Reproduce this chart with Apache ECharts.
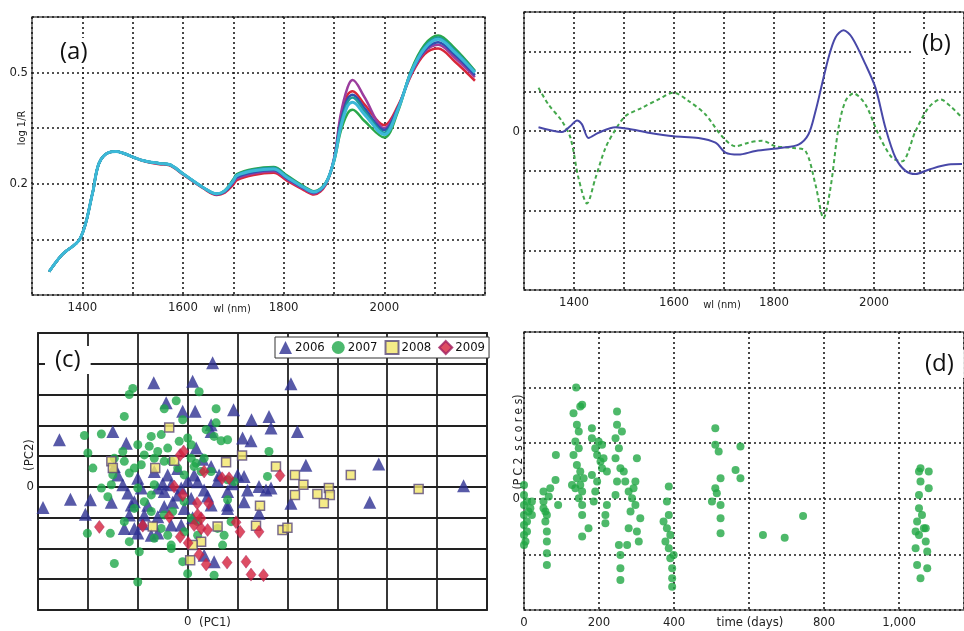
<!DOCTYPE html>
<html>
<head>
<meta charset="utf-8">
<script src="https://cdn.jsdelivr.net/npm/echarts@6/dist/echarts.min.js"></script>
<style>
  html, body { margin: 0; background: #fff; }
  #chart { width: 964px; height: 631px; }
</style>
</head>
<body>
<div id="chart"></div>
<script>
// (a) NIR spectra, log 1/R
const wavelengths = [1334, 1360, 1396, 1420, 1433, 1453, 1467, 1480, 1520, 1553, 1573, 1600, 1640, 1667, 1683, 1700, 1707, 1740, 1780, 1807, 1840, 1860, 1883, 1900, 1913, 1927, 1937, 1960, 2000, 2027, 2053, 2080, 2107, 2140, 2180]
const spectrumRed = [-0.037, 0.009, 0.053, 0.173, 0.255, 0.285, 0.287, 0.283, 0.262, 0.253, 0.250, 0.225, 0.188, 0.170, 0.176, 0.198, 0.210, 0.224, 0.230, 0.208, 0.183, 0.171, 0.196, 0.265, 0.370, 0.440, 0.450, 0.415, 0.358, 0.410, 0.492, 0.550, 0.565, 0.530, 0.478]
const spectrumMagenta = [-0.037, 0.009, 0.053, 0.173, 0.255, 0.285, 0.287, 0.283, 0.263, 0.254, 0.251, 0.226, 0.189, 0.171, 0.178, 0.203, 0.215, 0.228, 0.234, 0.212, 0.186, 0.174, 0.198, 0.268, 0.385, 0.460, 0.480, 0.435, 0.350, 0.405, 0.495, 0.556, 0.575, 0.540, 0.488]
const spectrumBlue = [-0.037, 0.009, 0.053, 0.173, 0.255, 0.285, 0.287, 0.283, 0.263, 0.255, 0.252, 0.227, 0.190, 0.172, 0.179, 0.205, 0.218, 0.231, 0.237, 0.214, 0.188, 0.176, 0.199, 0.266, 0.365, 0.430, 0.440, 0.405, 0.345, 0.405, 0.498, 0.560, 0.582, 0.548, 0.493]
const spectrumGreen = [-0.037, 0.009, 0.053, 0.173, 0.255, 0.285, 0.287, 0.283, 0.263, 0.255, 0.252, 0.227, 0.190, 0.173, 0.182, 0.212, 0.226, 0.240, 0.245, 0.222, 0.193, 0.180, 0.202, 0.260, 0.340, 0.390, 0.400, 0.370, 0.325, 0.395, 0.505, 0.575, 0.600, 0.565, 0.505]
const spectrumTeal = [-0.037, 0.009, 0.053, 0.173, 0.255, 0.285, 0.287, 0.283, 0.263, 0.255, 0.252, 0.227, 0.190, 0.173, 0.181, 0.210, 0.224, 0.238, 0.243, 0.220, 0.191, 0.179, 0.201, 0.262, 0.358, 0.420, 0.433, 0.397, 0.338, 0.402, 0.502, 0.570, 0.595, 0.560, 0.503]
const spectrumCyan = [-0.037, 0.009, 0.053, 0.173, 0.255, 0.285, 0.287, 0.283, 0.263, 0.255, 0.252, 0.227, 0.190, 0.173, 0.181, 0.208, 0.222, 0.235, 0.240, 0.217, 0.190, 0.178, 0.200, 0.263, 0.350, 0.410, 0.420, 0.388, 0.333, 0.400, 0.500, 0.565, 0.590, 0.555, 0.500]

// (b) loadings
const loading1Wl = [1329, 1376, 1393, 1406, 1416, 1429, 1449, 1483, 1516, 1549, 1599, 1649, 1683, 1703, 1729, 1763, 1816, 1849, 1869, 1883, 1896, 1909, 1923, 1939, 1956, 1983, 2003, 2023, 2043, 2063, 2083, 2109, 2149, 2176]
const loading1 = [0.1, -0.02, 0.13, 0.27, 0.17, -0.17, -0.04, 0.1, 0.04, -0.04, -0.13, -0.17, -0.29, -0.54, -0.59, -0.5, -0.42, -0.34, -0.08, 0.5, 1.18, 1.85, 2.36, 2.54, 2.36, 1.68, 1.09, 0.08, -0.67, -1.0, -1.08, -0.97, -0.84, -0.83]
const loading2Wl = [1329, 1349, 1376, 1393, 1409, 1426, 1443, 1463, 1483, 1503, 1536, 1569, 1599, 1629, 1663, 1696, 1723, 1749, 1776, 1803, 1836, 1863, 1883, 1899, 1913, 1929, 1943, 1959, 1983, 2009, 2036, 2056, 2083, 2109, 2133, 2156, 2176]
const loading2 = [1.09, 0.67, 0.25, -0.17, -1.18, -1.82, -1.18, -0.42, 0.04, 0.38, 0.59, 0.8, 0.97, 0.76, 0.42, -0.13, -0.38, -0.29, -0.24, -0.38, -0.42, -0.5, -1.35, -2.19, -1.43, 0.08, 0.76, 0.95, 0.67, -0.08, -0.67, -0.76, 0.0, 0.59, 0.8, 0.59, 0.34]

// (c) PC1 / PC2 scores by year
const years = ['2006', '2007', '2008', '2009']
const scores2006 = [[0.5, 4.03], [-0.68, 3.38], [0.1, 3.43], [2.07, 3.35], [-0.43, 2.73], [-0.1, 2.46], [0.15, 2.46], [0.92, 2.51], [1.28, 2.18], [1.63, 2.29], [1.67, 1.91], [2.2, 1.8], [-2.57, 1.53], [-1.5, 1.8], [-1.23, 1.42], [0.47, 1.8], [1.1, 1.59], [1.27, 1.5], [0.17, 1.26], [0.47, 2.02], [2.37, 0.7], [3.83, 0.74], [5.53, 0.04], [3.65, -0.5], [-2.9, -0.67], [-2.35, -0.4], [-1.95, -0.42], [-2.05, -0.89], [-1.53, -0.5], [-1.4, 0.39], [-1.3, 0.07], [-1.0, 0.28], [-0.93, -0.04], [-0.6, -0.04], [-0.47, -0.15], [-0.33, 0.07], [-0.13, -0.04], [0.2, 0.17], [0.33, -0.1], [0.47, 0.66], [0.63, 0.39], [0.8, -0.15], [1.0, 0.39], [1.13, 0.34], [1.43, 0.01], [1.67, -0.04], [1.57, -0.1], [1.13, -0.48], [0.8, -0.59], [2.07, -0.53], [1.43, -0.86], [-0.2, -0.26], [-1.07, -0.48], [-1.17, -0.91], [-1.27, -1.35], [-1.07, -1.35], [-0.87, -0.91], [-0.73, -1.57], [-0.47, -0.64], [-0.33, -1.24], [-0.13, -1.24], [-0.07, -0.7], [0.53, -2.43], [0.33, -2.22], [0.8, -0.7], [-1.13, -0.59], [-0.6, -0.97], [-1.47, 0.66], [0.13, 0.39], [-0.4, 0.39], [-0.67, 0.5], [0.47, -0.59], [0.07, -0.37], [-0.9, -1.2], [-0.5, 0.1], [0.3, 0.9], [-0.8, -0.6], [0.1, -1.0], [-0.3, -0.5], [0.6, 0.2], [-1.2, -0.2], [0.9, 0.1], [-0.2, 0.6], [0.4, -0.3], [-1.0, -1.5], [-0.6, -1.5], [0.0, 0.2], [1.2, -0.1]]
const scores2007 = [[-1.1, 3.2], [-1.17, 3.0], [-0.47, 2.54], [-0.23, 2.8], [-0.1, 2.18], [0.23, 3.09], [0.57, 2.54], [-1.27, 2.29], [-2.07, 1.67], [-1.73, 1.72], [-2.0, 1.1], [-1.9, 0.61], [-1.53, 0.07], [-1.73, -0.04], [-1.6, -0.32], [-1.3, 1.15], [-1.0, 1.37], [-0.77, 1.32], [-0.73, 1.64], [-0.53, 1.7], [-0.4, 1.26], [-0.33, 0.83], [-0.17, 1.48], [0.0, 1.59], [0.07, 1.37], [0.37, 1.86], [0.53, 1.64], [0.67, 1.5], [0.8, 1.53], [0.57, 2.08], [0.07, 0.93], [0.13, 0.66], [0.27, 0.5], [0.47, 0.5], [-0.2, 0.61], [-0.07, 0.39], [0.17, 0.77], [0.33, 0.93], [0.8, 0.23], [0.93, 0.17], [-0.87, 1.04], [-0.6, 1.15], [-0.47, 0.83], [-1.27, 0.83], [-1.07, 0.61], [-1.17, 0.45], [-1.47, 0.93], [-1.5, 0.39], [-0.93, 0.72], [-0.67, 0.93], [-0.73, -0.26], [-0.87, -0.48], [-1.0, -0.04], [-0.73, -0.8], [-0.53, -1.35], [-0.4, -1.57], [-0.33, -2.0], [-0.1, -2.43], [0.0, -2.82], [0.53, -2.87], [-1.0, -3.09], [-1.47, -2.49], [-2.01, -1.51], [-1.55, -1.51], [-1.17, -1.78], [-0.97, -2.11], [-0.67, -1.67], [-0.33, -1.89], [-0.07, -1.46], [0.2, -1.57], [0.73, -1.57], [0.6, -1.35], [0.7, -1.89], [0.8, -0.42], [0.87, -1.13], [1.63, 1.15], [1.6, 0.34], [-0.3, -0.8], [0.07, -1.02], [-1.07, -0.7], [-0.47, -0.91], [0.2, -1.13], [-0.07, -0.48], [-1.27, -1.13], [-0.67, 0.07]]
const scores2008 = [[-0.37, 1.93], [-1.53, 0.83], [-1.5, 0.61], [-0.65, 0.61], [-0.27, 0.85], [0.77, 0.8], [1.09, 1.02], [1.77, 0.66], [2.15, 0.39], [2.32, 0.07], [3.27, 0.39], [2.83, -0.04], [2.85, -0.26], [2.6, -0.23], [2.73, -0.53], [2.15, -0.26], [4.63, -0.07], [1.45, -0.61], [1.37, -1.26], [0.6, -1.29], [-0.7, -1.29], [0.27, -1.78], [0.1, -1.89], [0.05, -2.38], [1.9, -1.4], [2.0, -1.33]]
const scores2009 = [[-1.77, -1.3], [-0.9, -1.26], [-0.37, -0.97], [-0.15, 1.04], [-0.08, 1.15], [0.33, 0.5], [0.69, 0.28], [0.83, 0.28], [1.85, 0.37], [-0.27, 0.01], [-0.1, -0.26], [0.19, -0.53], [0.42, -0.53], [0.13, -1.24], [0.27, -1.35], [0.4, -1.4], [0.27, -1.02], [0.97, -1.15], [1.05, -1.46], [1.43, -1.46], [-0.15, -1.62], [0.01, -1.82], [0.23, -2.2], [0.37, -2.52], [0.79, -2.46], [1.17, -2.43], [1.27, -2.85], [1.52, -2.87], [0.2, -0.91]]

// (d) PC2 scores over time (days)
const pc2ByTime = [[0, 0.25], [0, 0.07], [0, -0.11], [0, -0.29], [0, -0.47], [0, -0.65], [0, -0.83], [8, -0.05], [8, -0.41], [8, -0.59], [12, -0.23], [17, -0.17], [21, -0.05], [21, -0.29], [4, -0.77],
  [52, 0.13], [52, -0.05], [57, -0.23], [57, -0.41], [61, -0.59], [61, -0.77], [61, -0.98], [61, -1.19], [66, 0.04], [70, 0.19], [61, -0.29], [52, -0.17],
  [85, 0.79], [84, 0.34], [91, -0.11],
  [139, 2.0], [132, 1.54], [155, 1.69], [150, 1.66], [141, 1.33], [146, 1.21], [137, 1.03], [146, 0.91], [132, 0.79], [141, 0.61], [150, 0.49], [141, 0.37], [150, 0.25], [137, 0.19], [155, 0.13], [146, 0.01], [155, -0.11], [155, -0.29], [155, -0.68], [159, 0.37], [128, 0.25],
  [181, 1.27], [181, 1.09], [190, 0.91], [199, 1.03], [195, 0.79], [204, 0.67], [208, 0.55], [181, 0.43], [195, 0.31], [190, 0.13], [221, -0.11], [217, -0.29], [217, -0.44], [212, 0.73], [221, 0.49], [186, -0.05], [172, -0.53], [208, 0.97],
  [248, 1.57], [248, 1.33], [244, 1.09], [253, 0.91], [244, 0.73], [257, 0.55], [248, 0.31], [244, 0.07], [253, -0.83], [257, -1.01], [257, -1.25], [257, -1.46], [261, 1.21], [266, 0.49],
  [270, 0.31], [279, 0.13], [288, 0.01], [297, 0.31], [297, -0.11], [301, 0.73], [279, -0.53], [275, -0.83], [310, -0.35], [306, -0.77], [284, -0.23], [292, 0.19], [301, -0.59],
  [386, 0.22], [381, -0.05], [386, -0.29], [381, -0.53], [377, -0.77], [386, -0.89], [390, -1.07], [395, -1.25], [395, -1.43], [395, -1.58], [372, -0.41], [390, -0.65], [399, -1.01],
  [510, 1.27], [510, 0.97], [519, 0.85], [524, 0.37], [510, 0.19], [501, -0.05], [524, -0.11], [524, -0.35], [524, -0.62], [577, 0.94], [564, 0.52], [577, 0.37], [514, 0.1],
  [637, -0.65], [695, -0.7], [744, -0.31],
  [1057, 0.55], [1057, 0.31], [1053, 0.07], [1053, -0.17], [1048, -0.41], [1053, -0.65], [1044, -0.89], [1048, -1.19], [1057, -1.43], [1066, -0.53], [1071, -0.77], [1075, -0.95], [1079, 0.49], [1079, 0.19], [1075, -1.25], [1061, -0.29], [1044, -0.59], [1071, -0.53], [1053, 0.49]]

const tickFont = '"DejaVu Sans Condensed", "Liberation Sans Narrow", "Liberation Sans", sans-serif'
const panelFont = '"Open Sans", "DejaVu Sans", sans-serif'

const dotted = { show: true, lineStyle: { color: '#1a1a1a', type: [2, 3], width: 1.6 } }
const solid = { show: true, lineStyle: { color: '#222', type: 'solid', width: 1.8 } }
const tickLabel = { fontFamily: tickFont, fontSize: 13, color: '#222' }

function pairs(xs, ys) {
  return xs.map((x, i) => [x, ys[i]])
}

function near(v, t) {
  return Math.abs(v - t) < 1e-6
}

function baseAxis(gridIndex, extra) {
  return Object.assign({
    type: 'value',
    gridIndex: gridIndex,
    axisLine: { show: false },
    axisTick: { show: false }
  }, extra)
}

function spectrumSeries(values, color, width) {
  return {
    type: 'line',
    xAxisIndex: 0,
    yAxisIndex: 0,
    data: pairs(wavelengths, values),
    smooth: 0.35,
    showSymbol: false,
    lineStyle: { color: color, width: width }
  }
}

function scatterSeries(name, data, symbol, size, itemStyle) {
  return {
    name: name,
    type: 'scatter',
    xAxisIndex: 2,
    yAxisIndex: 2,
    data: data,
    symbol: symbol,
    symbolSize: size,
    itemStyle: itemStyle
  }
}

function panelTitle(text, left, top) {
  return {
    text: text,
    left: left,
    top: top,
    backgroundColor: '#fff',
    padding: [2, 10],
    textStyle: { fontFamily: panelFont, fontSize: 24, fontWeight: 'normal', color: '#111' }
  }
}

function axisName(text, x, y, size, rotate) {
  return {
    type: 'text',
    x: x,
    y: y,
    rotation: rotate ? Math.PI / 2 : 0,
    style: {
      text: text,
      fontFamily: tickFont,
      fontSize: size,
      fill: '#222',
      align: 'center',
      verticalAlign: 'middle'
    }
  }
}

const chart = echarts.init(document.getElementById('chart'))

chart.setOption({
  animation: false,
  backgroundColor: '#fff',
  title: [
    panelTitle('(a)', 50, 38),
    panelTitle('(b)', 912, 30),
    panelTitle('(c)', 45, 346),
    panelTitle('(d)', 915, 350)
  ],
  legend: {
    data: years,
    left: 275,
    top: 337,
    orient: 'horizontal',
    itemWidth: 13,
    itemHeight: 13,
    itemGap: 7,
    borderColor: '#333',
    borderWidth: 1,
    backgroundColor: '#fff',
    padding: [3, 4],
    textStyle: { fontFamily: tickFont, fontSize: 13, color: '#111', padding: [0, 0, 0, -2] }
  },
  grid: [
    { left: 32, top: 17, width: 453, height: 278, show: true, borderColor: '#555', borderWidth: 1.5 },
    { left: 524, top: 12, width: 440, height: 278, show: true, borderColor: '#555', borderWidth: 1.5 },
    { left: 38, top: 333, width: 449, height: 277, show: true, borderColor: '#222', borderWidth: 1.8 },
    { left: 524, top: 332, width: 440, height: 278, show: true, borderColor: '#555', borderWidth: 1.5 }
  ],
  xAxis: [
    baseAxis(0, {
      min: 1300, max: 2200, interval: 100,
      splitLine: dotted,
      axisLabel: Object.assign({}, tickLabel, {
        margin: 6,
        formatter: (v) => (v >= 1400 && v <= 2000 && v % 200 === 0 ? String(v) : '')
      })
    }),
    baseAxis(1, {
      min: 1300, max: 2180, interval: 100,
      splitLine: dotted,
      axisLabel: Object.assign({}, tickLabel, {
        margin: 6,
        showMaxLabel: false,
        formatter: (v) => (v >= 1400 && v <= 2000 && v % 200 === 0 ? String(v) : '')
      })
    }),
    baseAxis(2, {
      min: -3, max: 6, interval: 1,
      splitLine: solid,
      axisLabel: Object.assign({}, tickLabel, {
        margin: 5,
        formatter: (v) => (near(v, 0) ? '0' : '')
      })
    }),
    baseAxis(3, {
      min: 0, max: 1173, interval: 200,
      splitLine: dotted,
      axisLabel: Object.assign({}, tickLabel, {
        margin: 6,
        showMaxLabel: false,
        formatter: (v) => (v === 600 ? '' : v === 1000 ? '1,000' : String(v))
      })
    })
  ],
  yAxis: [
    baseAxis(0, {
      min: -0.1, max: 0.65, interval: 0.15,
      splitLine: dotted,
      axisLabel: Object.assign({}, tickLabel, {
        margin: 4,
        formatter: (v) => (near(v, 0.5) ? '0.5' : near(v, 0.2) ? '0.2' : '')
      })
    }),
    baseAxis(1, {
      min: -4, max: 3, interval: 1,
      splitLine: dotted,
      axisLabel: Object.assign({}, tickLabel, {
        margin: 4,
        formatter: (v) => (near(v, 0) ? '0' : '')
      })
    }),
    baseAxis(2, {
      min: -4, max: 5, interval: 1,
      splitLine: solid,
      axisLabel: Object.assign({}, tickLabel, {
        margin: 4,
        formatter: (v) => (near(v, 0) ? '0' : '')
      })
    }),
    baseAxis(3, {
      min: -2, max: 3, interval: 1,
      splitLine: dotted,
      axisLabel: Object.assign({}, tickLabel, {
        margin: 4,
        formatter: (v) => (near(v, 0) ? '0' : '')
      })
    })
  ],
  graphic: [
    axisName('log 1/R', 22, 128, 11, true),
    axisName('wl (nm)', 232, 309, 11, false),
    axisName('wl (nm)', 722, 305, 11, false),
    axisName('(PC2)', 30, 455, 13, true),
    axisName('(PC1)', 215, 623, 13, false),
    axisName('(P C 2  s c o r e s)', 519, 442, 12, true),
    axisName('time (days)', 750, 623, 13, false)
  ],
  series: [
    spectrumSeries(spectrumRed, '#d8283a', 2.5),
    spectrumSeries(spectrumMagenta, '#9b3d9e', 2.5),
    spectrumSeries(spectrumBlue, '#3050b0', 2.5),
    spectrumSeries(spectrumGreen, '#2aa84a', 2.5),
    spectrumSeries(spectrumTeal, '#1e9a9a', 2.5),
    spectrumSeries(spectrumCyan, '#3cb8d8', 3),
    {
      type: 'line',
      xAxisIndex: 1,
      yAxisIndex: 1,
      data: pairs(loading2Wl, loading2),
      smooth: 0.3,
      showSymbol: false,
      lineStyle: { color: '#44a84c', width: 2, type: [4, 3] }
    },
    {
      type: 'line',
      xAxisIndex: 1,
      yAxisIndex: 1,
      data: pairs(loading1Wl, loading1),
      smooth: 0.3,
      showSymbol: false,
      lineStyle: { color: '#4848a8', width: 2 }
    },
    scatterSeries('2006', scores2006, 'triangle', 13, { color: '#2e3192' }),
    scatterSeries('2007', scores2007, 'circle', 9, { color: '#1fa84a' }),
    scatterSeries('2008', scores2008, 'rect', 9, { color: '#f2e66a', borderColor: '#5a4a7a', borderWidth: 1.5 }),
    scatterSeries('2009', scores2009, 'diamond', [10, 13], { color: '#d4203c', borderColor: '#a02060', borderWidth: 0.5 }),
    {
      type: 'scatter',
      xAxisIndex: 3,
      yAxisIndex: 3,
      data: pc2ByTime,
      symbol: 'circle',
      symbolSize: 8,
      itemStyle: { color: '#22a745' }
    }
  ]
})
</script>
</body>
</html>
